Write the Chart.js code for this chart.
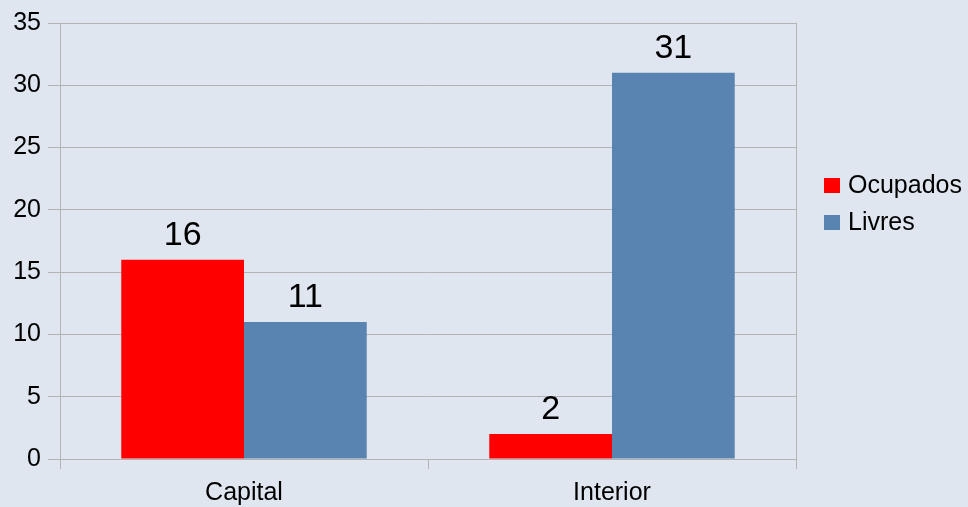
<!DOCTYPE html>
<html>
<head>
<meta charset="utf-8">
<script src="https://cdn.jsdelivr.net/npm/chart.js@4/dist/chart.umd.min.js"></script>
<style>
  html, body { margin: 0; padding: 0; background: #dfe6ef; }
  #wrap { width: 968px; height: 507px; }
</style>
</head>
<body>
<div id="wrap"><canvas id="vagasChart" width="968" height="507"></canvas></div>
<script>
// data
const categories = ["Capital", "Interior"];
const ocupados = [16, 2];
const livres = [11, 31];
const seriesNames = ["Ocupados", "Livres"];
const yTicks = [0, 5, 10, 15, 20, 25, 30, 35];

const gridGray = "#b3b3b3";
const fontFam = "'Liberation Sans', Arial, sans-serif";

// numbers above each bar
const valueLabels = {
    id: "valueLabels",
    afterDatasetsDraw(chart) {
        const ctx = chart.ctx;
        ctx.save();
        ctx.font = "34px " + fontFam;
        ctx.fillStyle = "#000";
        ctx.textAlign = "center";
        ctx.textBaseline = "alphabetic";
        chart.data.datasets.forEach((ds, i) => {
            chart.getDatasetMeta(i).data.forEach((bar, j) => {
                ctx.fillText(ds.data[j], bar.x, bar.y - 15);
            });
        });
        ctx.restore();
    }
};

// legend on the right, drawn by hand so the spacing matches
const sideLegend = {
    id: "sideLegend",
    afterDraw(chart) {
        const ctx = chart.ctx;
        ctx.save();
        ctx.font = "25px " + fontFam;
        ctx.textBaseline = "middle";
        chart.data.datasets.forEach((ds, i) => {
            const y = 186 + i * 37;
            ctx.fillStyle = ds.backgroundColor;
            ctx.fillRect(824, y - 8, 16, 15);
            ctx.fillStyle = "#000";
            ctx.fillText(ds.label, 848, y);
        });
        ctx.restore();
    }
};

new Chart("vagasChart", {
    type: "bar",
    data: {
        labels: categories,
        datasets: [
            { label: seriesNames[0], data: ocupados, backgroundColor: "#ff0000" },
            { label: seriesNames[1], data: livres, backgroundColor: "#5983b0" }
        ]
    },
    options: {
        responsive: false,
        animation: false,
        layout: { padding: { top: 23, right: 172, bottom: 0, left: 0 } },
        datasets: { bar: { categoryPercentage: 0.667, barPercentage: 1.0 } },
        plugins: {
            legend: { display: false },
            tooltip: { enabled: false }
        },
        scales: {
            x: {
                grid: { drawOnChartArea: false, color: gridGray, tickLength: 10, offset: true },
                border: { display: false },
                ticks: { color: "#000", font: { family: fontFam, size: 25 }, padding: 9 },
                afterFit: s => { s.height = 48; }
            },
            y: {
                min: 0, max: 35,
                afterBuildTicks: s => { s.ticks = yTicks.map(v => ({ value: v })); },
                grid: { color: gridGray, tickLength: 12 },
                border: { color: gridGray },
                ticks: { color: "#000", font: { family: fontFam, size: 25 }, padding: 7 },
                afterFit: s => { s.width = 60; }
            },
            y2: {
                position: "right",
                min: 0, max: 35,
                grid: { drawOnChartArea: false, drawTicks: false },
                border: { color: gridGray },
                ticks: { display: false },
                afterFit: s => { s.width = 0; }
            }
        }
    },
    plugins: [valueLabels, sideLegend]
});
</script>
</body>
</html>
